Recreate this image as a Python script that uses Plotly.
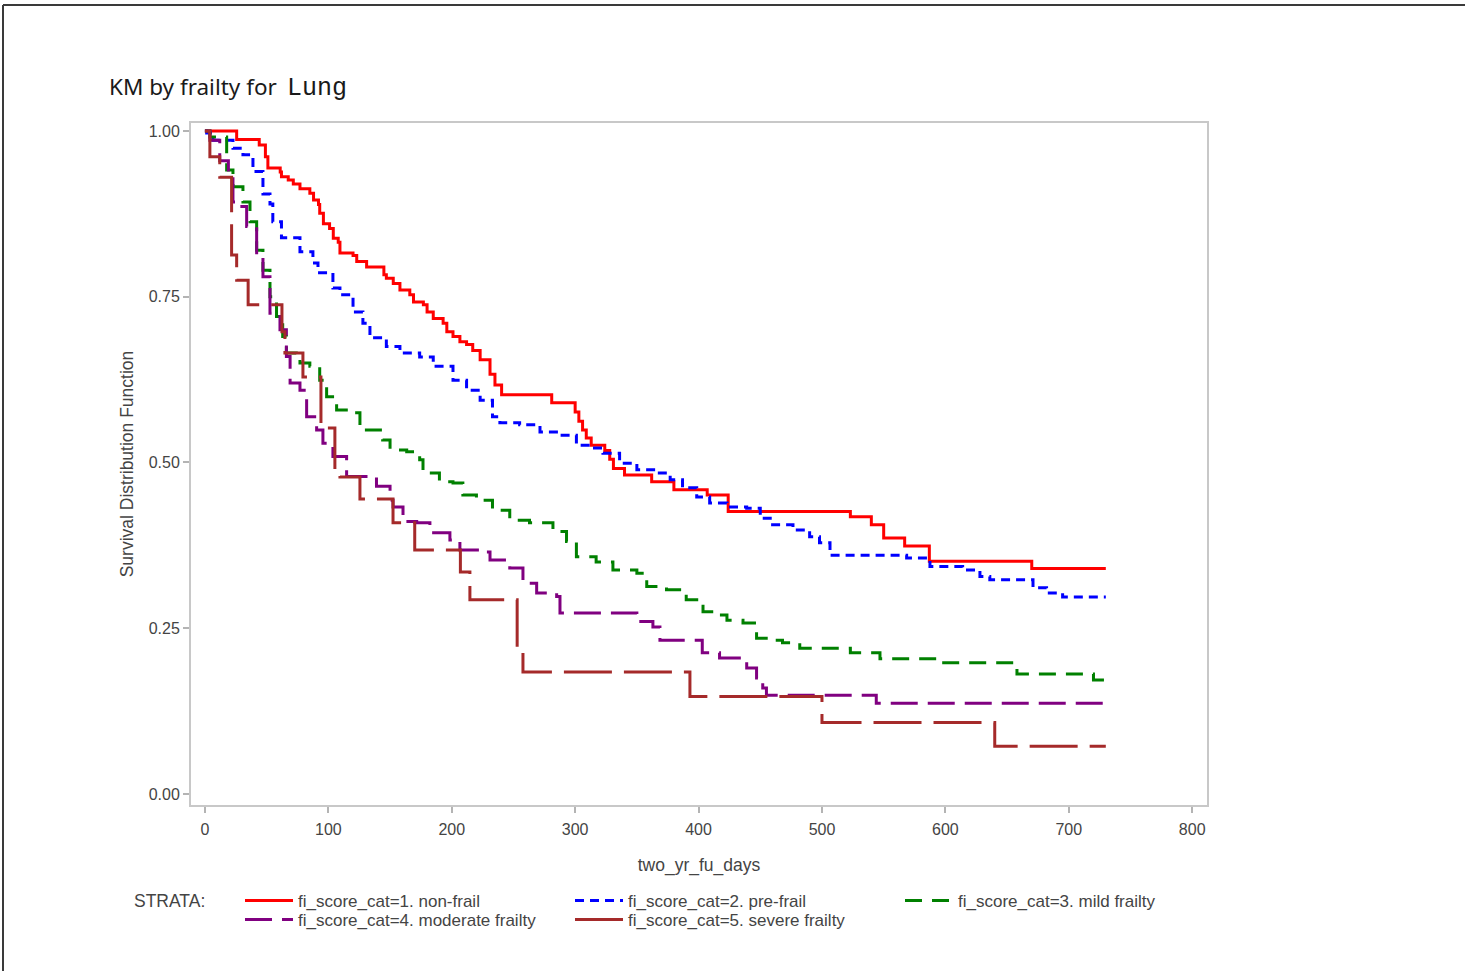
import plotly.graph_objects as go

# ---------------- data ----------------
red_t = [0, 25.7, 44, 49, 51, 61, 62, 67.5, 71.6, 77, 85, 88, 92, 93, 96, 101, 104, 108, 109.4,
         120, 123, 131, 145, 147, 152.6, 158, 166, 169, 177, 180, 185, 193, 196, 201, 206.6, 212,
         217, 223, 231, 235, 240.4, 281, 300, 303, 306, 309, 313, 324, 328, 331, 340, 362, 380,
         407, 424, 523, 540, 550, 567, 587, 670, 730]
red_s = [1.000, 0.987, 0.979, 0.961, 0.944, 0.938, 0.931, 0.926, 0.920, 0.913, 0.906, 0.896, 0.889,
         0.876, 0.860, 0.853, 0.838, 0.832, 0.816, 0.812, 0.803, 0.795, 0.783, 0.778, 0.770, 0.760,
         0.753, 0.742, 0.738, 0.727, 0.717, 0.710, 0.697, 0.690, 0.682, 0.678, 0.669, 0.655, 0.633,
         0.617, 0.602, 0.590, 0.576, 0.562, 0.549, 0.537, 0.526, 0.518, 0.505, 0.491, 0.481, 0.471,
         0.459, 0.451, 0.426, 0.418, 0.406, 0.386, 0.374, 0.351, 0.340, 0.340]

blue_t = [0, 1.4, 6.5, 22.7, 30.8, 38.9, 47, 52.7, 55, 62, 77, 87.5, 91.6, 103.7, 109.4, 120, 128,
          133.7, 147, 158, 174, 185, 201, 212, 223, 233, 239, 255, 271.5, 288, 301, 312, 322.5, 336,
          350, 366, 377, 387, 398.5, 409, 423, 439, 450, 460, 476.5, 490, 498, 506.5, 568.6, 587.5,
          614, 628, 636, 671, 682, 695, 730]
blue_s = [1.000, 0.997, 0.986, 0.974, 0.964, 0.939, 0.905, 0.890, 0.863, 0.839, 0.818, 0.801, 0.786,
          0.763, 0.753, 0.727, 0.710, 0.688, 0.675, 0.665, 0.659, 0.645, 0.624, 0.609, 0.594, 0.569,
          0.560, 0.557, 0.546, 0.541, 0.526, 0.522, 0.514, 0.499, 0.489, 0.484, 0.474, 0.462, 0.448,
          0.439, 0.433, 0.431, 0.416, 0.406, 0.398, 0.388, 0.379, 0.360, 0.356, 0.343, 0.338, 0.328,
          0.323, 0.311, 0.303, 0.297, 0.297]

green_t = [0, 4, 17.6, 22.7, 30.8, 36.5, 41.9, 47, 52.7, 58, 63, 66, 74, 77, 85, 93, 98.6, 106.7,
           120, 125.6, 144, 150, 163.5, 174, 176.7, 190, 201, 209, 220, 233, 247, 263, 282, 293, 301,
           317, 330.6, 350, 358, 374, 390, 398.5, 403.6, 417, 423, 436, 447, 460, 468, 482, 523, 547,
           596, 658, 720, 730]
green_s = [1.000, 0.991, 0.941, 0.916, 0.893, 0.863, 0.820, 0.790, 0.750, 0.720, 0.690, 0.665, 0.660,
           0.650, 0.645, 0.624, 0.599, 0.579, 0.575, 0.549, 0.534, 0.519, 0.516, 0.504, 0.484, 0.471,
           0.469, 0.451, 0.443, 0.428, 0.413, 0.409, 0.396, 0.381, 0.358, 0.350, 0.338, 0.333, 0.313,
           0.308, 0.293, 0.283, 0.275, 0.270, 0.262, 0.258, 0.235, 0.232, 0.228, 0.220, 0.213, 0.204,
           0.198, 0.181, 0.172, 0.172]

purple_t = [0, 4, 12, 19, 22.7, 28.4, 33.8, 41.9, 47, 52.7, 60.8, 66, 69, 77, 82.4, 90.5, 95.6,
            103.7, 114.8, 139, 150, 152.4, 160.5, 171.6, 182.3, 198.5, 206.6, 223, 231, 247, 257.7,
            268.8, 285, 287.7, 350, 363, 368.7, 403, 417, 439, 447, 452, 455, 544, 730]
purple_s = [1.000, 0.986, 0.955, 0.928, 0.893, 0.886, 0.856, 0.810, 0.780, 0.725, 0.700, 0.660, 0.620,
            0.609, 0.569, 0.549, 0.529, 0.509, 0.479, 0.464, 0.443, 0.433, 0.411, 0.409, 0.394, 0.383,
            0.368, 0.365, 0.353, 0.341, 0.318, 0.303, 0.298, 0.273, 0.260, 0.252, 0.232, 0.213, 0.205,
            0.190, 0.175, 0.160, 0.149, 0.137, 0.137]

brown_t = [0, 4, 12, 21.6, 25.7, 35, 62.4, 64.8, 79.4, 94, 105.3, 109.4, 125.6, 152.4, 170, 207,
           214.7, 253, 257.7, 393, 500, 640, 730]
brown_s = [1.000, 0.961, 0.930, 0.813, 0.775, 0.738, 0.697, 0.665, 0.629, 0.552, 0.490, 0.478, 0.445,
           0.409, 0.368, 0.335, 0.293, 0.220, 0.184, 0.147, 0.108, 0.072, 0.072]

strata_names = ["fi_score_cat=1. non-frail", "fi_score_cat=2. pre-frail",
                "fi_score_cat=3. mild frailty", "fi_score_cat=4. moderate frailty",
                "fi_score_cat=5. severe frailty"]
x_ticks = [0, 100, 200, 300, 400, 500, 600, 700, 800]
y_ticks = [0.00, 0.25, 0.50, 0.75, 1.00]

# ---------------- styling ----------------
colors = ["#FF0000", "#0000FF", "#008000", "#800080", "#A52A2A"]
dashes = ["solid", "9px,6px", "17px,10px", "27px,10px", "48px,12px"]
series = [(red_t, red_s), (blue_t, blue_s), (green_t, green_s),
          (purple_t, purple_s), (brown_t, brown_s)]

FONT = "Liberation Sans, Arial, sans-serif"
TXT = "#444444"
W, H = 1465, 971
L, R, T, B = 191, 1207, 123, 805


def px_x(p):
    return (p - L) / (R - L)


def px_y(p):
    return (B - p) / (B - T)


# legend slots (left edge of line sample, row centre) in pixels
legend_ids = ["legend", "legend2", "legend3", "legend4", "legend5"]
legend_slots = [(240, 901), (570, 901), (900, 901), (240, 920), (570, 920)]

fig = go.Figure()
for (t, s), name, c, d, lg in zip(series, strata_names, colors, dashes, legend_ids):
    fig.add_trace(go.Scatter(x=t, y=s, mode="lines", name=name, legend=lg,
                             line=dict(color=c, width=3, dash=d, shape="hv")))

axis_common = dict(showline=True, mirror=True, linecolor="#c8c8c8", linewidth=2,
                   showgrid=False, zeroline=False, ticks="outside", ticklen=6,
                   tickwidth=1.5, tickcolor="#b4b4b4",
                   tickfont=dict(family=FONT, size=16, color=TXT))

fig.update_xaxes(range=[-11.3, 812], tickvals=x_ticks, ticklabelstandoff=3,
                 title=dict(text="two_yr_fu_days", standoff=22,
                            font=dict(family=FONT, size=17.5, color=TXT)),
                 **axis_common)
fig.update_yaxes(range=[-0.0166, 1.012], tickvals=y_ticks, tickformat=".2f",
                 title=dict(text="Survival Distribution Function", standoff=11,
                            font=dict(family=FONT, size=17.5, color=TXT)),
                 **axis_common)

legend_common = dict(orientation="h", xanchor="left", yanchor="middle",
                     font=dict(family=FONT, size=17, color=TXT),
                     itemwidth=48, bgcolor="rgba(0,0,0,0)", tracegroupgap=0,
                     itemclick=False, itemdoubleclick=False)

legends = {}
for lg, (lx, ly) in zip(legend_ids, legend_slots):
    legends[lg] = dict(x=px_x(lx), y=px_y(ly), **legend_common)

fig.update_layout(
    width=W, height=H,
    margin=dict(l=L, r=W - R, t=T, b=H - B, autoexpand=False),
    paper_bgcolor="white", plot_bgcolor="white",
    showlegend=True,
    annotations=[
        dict(text="KM by frailty for", xref="paper", yref="paper", x=px_x(107), y=px_y(86),
             xanchor="left", yanchor="middle", showarrow=False,
             font=dict(family="Noto Sans, Open Sans, sans-serif", size=22.5, color="#1a1a1a")),
        dict(text="Lung", xref="paper", yref="paper", x=px_x(285), y=px_y(88),
             xanchor="left", yanchor="middle", showarrow=False,
             font=dict(family="Courier New, Nimbus Mono PS, FreeMono, Courier, Liberation Mono, monospace",
                       size=25, color="#1a1a1a")),
        dict(text="STRATA:", xref="paper", yref="paper", x=px_x(132), y=px_y(901),
             xanchor="left", yanchor="middle", showarrow=False,
             font=dict(family=FONT, size=17.5, color=TXT)),
    ],
    shapes=[
        dict(type="line", xref="paper", yref="paper", x0=px_x(3), x1=px_x(3),
             y0=px_y(980), y1=px_y(5), line=dict(color="#3a3a3a", width=2)),
        dict(type="line", xref="paper", yref="paper", x0=px_x(3), x1=px_x(1475),
             y0=px_y(5), y1=px_y(5), line=dict(color="#3a3a3a", width=2)),
    ],
    **legends,
)

fig.write_html("out.html")
